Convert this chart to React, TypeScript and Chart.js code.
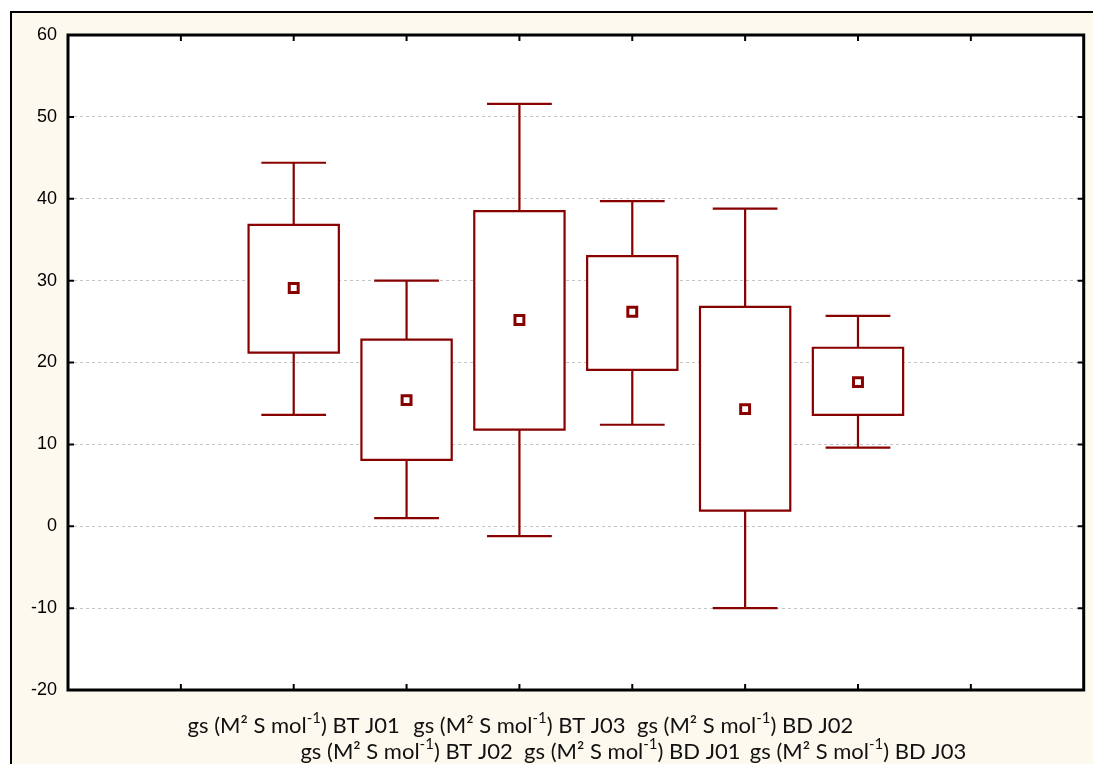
import React, { useEffect, useRef } from 'react';
import { Chart, registerables } from 'chart.js';

Chart.register(...registerables);

// ---- data ----
const categories: string[] = ['BT J01', 'BT J02', 'BT J03', 'BD J01', 'BD J02', 'BD J03'];
const categoryX: number[] = [2, 3, 4, 5, 6, 7];
const labelPrefix = 'gs (M\u00B2 S mol';
const labelSup = '-1';
const whiskerMax: number[] = [44.4, 30.0, 51.6, 39.7, 38.8, 25.7];
const q3: number[] = [36.8, 22.8, 38.5, 33.0, 26.8, 21.8];
const q1: number[] = [21.2, 8.1, 11.8, 19.1, 1.9, 13.6];
const whiskerMin: number[] = [13.6, 1.0, -1.2, 12.4, -10.0, 9.6];
const means: number[] = [29.1, 15.4, 25.2, 26.2, 14.3, 17.6];
const xTickValues: number[] = [1, 2, 3, 4, 5, 6, 7, 8];
const yTickValues: number[] = [-20, -10, 0, 10, 20, 30, 40, 50, 60];

const BOX_COLOR = '#880000';
const CREAM = '#FDF9EF';

const boxPlugin = {
  id: 'boxPlugin',
  beforeDraw(chart: any) {
    const { ctx, chartArea } = chart;
    ctx.save();
    ctx.fillStyle = '#ffffff';
    ctx.fillRect(chartArea.left, chartArea.top, chartArea.right - chartArea.left, chartArea.bottom - chartArea.top);
    ctx.restore();
  },
  beforeDatasetsDraw(chart: any) {
    const { ctx } = chart;
    const xs = chart.scales.x;
    const ys = chart.scales.y;
    ctx.save();
    ctx.strokeStyle = BOX_COLOR;
    ctx.lineWidth = 2.2;
    for (let i = 0; i < categories.length; i++) {
      const cx = xs.getPixelForValue(categoryX[i]);
      const bl = xs.getPixelForValue(categoryX[i] - 0.4);
      const br = xs.getPixelForValue(categoryX[i] + 0.4);
      const cl = xs.getPixelForValue(categoryX[i] - 0.287);
      const cr = xs.getPixelForValue(categoryX[i] + 0.287);
      const yMax = ys.getPixelForValue(whiskerMax[i]);
      const yQ3 = ys.getPixelForValue(q3[i]);
      const yQ1 = ys.getPixelForValue(q1[i]);
      const yMin = ys.getPixelForValue(whiskerMin[i]);
      ctx.fillStyle = '#ffffff';
      ctx.fillRect(bl, yQ3, br - bl, yQ1 - yQ3);
      ctx.beginPath();
      ctx.rect(bl, yQ3, br - bl, yQ1 - yQ3);
      ctx.moveTo(cx, yQ3);
      ctx.lineTo(cx, yMax);
      ctx.moveTo(cl, yMax);
      ctx.lineTo(cr, yMax);
      ctx.moveTo(cx, yQ1);
      ctx.lineTo(cx, yMin);
      ctx.moveTo(cl, yMin);
      ctx.lineTo(cr, yMin);
      ctx.stroke();
    }
    ctx.restore();
  },
  afterDraw(chart: any) {
    const { ctx, chartArea } = chart;
    const xs = chart.scales.x;
    const ys = chart.scales.y;
    const { left, right, top, bottom } = chartArea;
    ctx.save();
    ctx.strokeStyle = '#000000';
    ctx.lineWidth = 3;
    ctx.strokeRect(left, top, right - left, bottom - top);
    ctx.lineWidth = 2;
    ctx.beginPath();
    const tl = 6;
    for (const v of xTickValues) {
      const x = xs.getPixelForValue(v);
      ctx.moveTo(x, top);
      ctx.lineTo(x, top + tl);
      ctx.moveTo(x, bottom);
      ctx.lineTo(x, bottom - tl);
    }
    for (const v of yTickValues) {
      const y = ys.getPixelForValue(v);
      ctx.moveTo(left, y);
      ctx.lineTo(left + tl, y);
      ctx.moveTo(right, y);
      ctx.lineTo(right - tl, y);
    }
    ctx.stroke();

    // category labels with superscript, staggered on two lines
    const mainFont = '22px Lato';
    const supFont = '15px Lato';
    ctx.fillStyle = '#111111';
    ctx.textBaseline = 'alphabetic';
    ctx.textAlign = 'left';
    for (let i = 0; i < categories.length; i++) {
      const cx = xs.getPixelForValue(categoryX[i]);
      const line = i % 2;
      const baseY = bottom + (line === 0 ? 43 : 69);
      const suffix = ') ' + categories[i];
      ctx.font = mainFont;
      const w1 = ctx.measureText(labelPrefix).width;
      const w3 = ctx.measureText(suffix).width;
      ctx.font = supFont;
      const w2 = ctx.measureText(labelSup).width;
      let x = cx - (w1 + w2 + w3) / 2;
      ctx.font = mainFont;
      ctx.fillText(labelPrefix, x, baseY);
      x += w1;
      ctx.font = supFont;
      ctx.fillText(labelSup, x, baseY - 10);
      x += w2;
      ctx.font = mainFont;
      ctx.fillText(suffix, x, baseY);
    }
    ctx.restore();
  },
};

export default function App() {
  const ref = useRef<HTMLCanvasElement | null>(null);
  useEffect(() => {
    if (!ref.current) return;
    const chart = new Chart(ref.current, {
      type: 'scatter',
      data: {
        datasets: [
          {
            label: 'Mean',
            data: categoryX.map((x, i) => ({ x, y: means[i] })),
            pointStyle: 'rect',
            pointRadius: 6.3,
            pointBorderWidth: 3,
            pointBackgroundColor: '#ffffff',
            pointBorderColor: BOX_COLOR,
            showLine: false,
          },
        ],
      },
      options: {
        responsive: false,
        animation: false,
        layout: { padding: { top: 35, right: 5, left: 0, bottom: 0 } },
        plugins: { legend: { display: false }, tooltip: { enabled: false } },
        scales: {
          x: {
            type: 'linear',
            min: 0,
            max: 9,
            ticks: { display: false, stepSize: 1 },
            grid: { display: false },
            border: { display: false },
            afterFit: (s: any) => { s.height = 74; },
          },
          y: {
            type: 'linear',
            min: -20,
            max: 60,
            ticks: {
              stepSize: 10,
              padding: 11,
              color: '#000000',
              font: { family: '"Liberation Sans", Arial, sans-serif', size: 18 },
            },
            grid: { color: '#c4c4c4', lineWidth: 1, drawTicks: false },
            border: { display: false, dash: [3, 3] },
            afterFit: (s: any) => { s.width = 68; },
          },
        },
      },
      plugins: [boxPlugin],
    });
    return () => chart.destroy();
  }, []);

  return (
    <div style={{ position: 'fixed', left: 0, top: 0, width: 1093, height: 764, background: '#ffffff', overflow: 'hidden' }}>
      <div
        style={{
          position: 'absolute',
          left: 10,
          top: 11,
          right: -10,
          bottom: -10,
          background: CREAM,
          borderLeft: '2px solid #000',
          borderTop: '2px solid #000',
        }}
      />
      <canvas ref={ref} width={1093} height={764} style={{ position: 'absolute', left: 0, top: 0 }} />
    </div>
  );
}
